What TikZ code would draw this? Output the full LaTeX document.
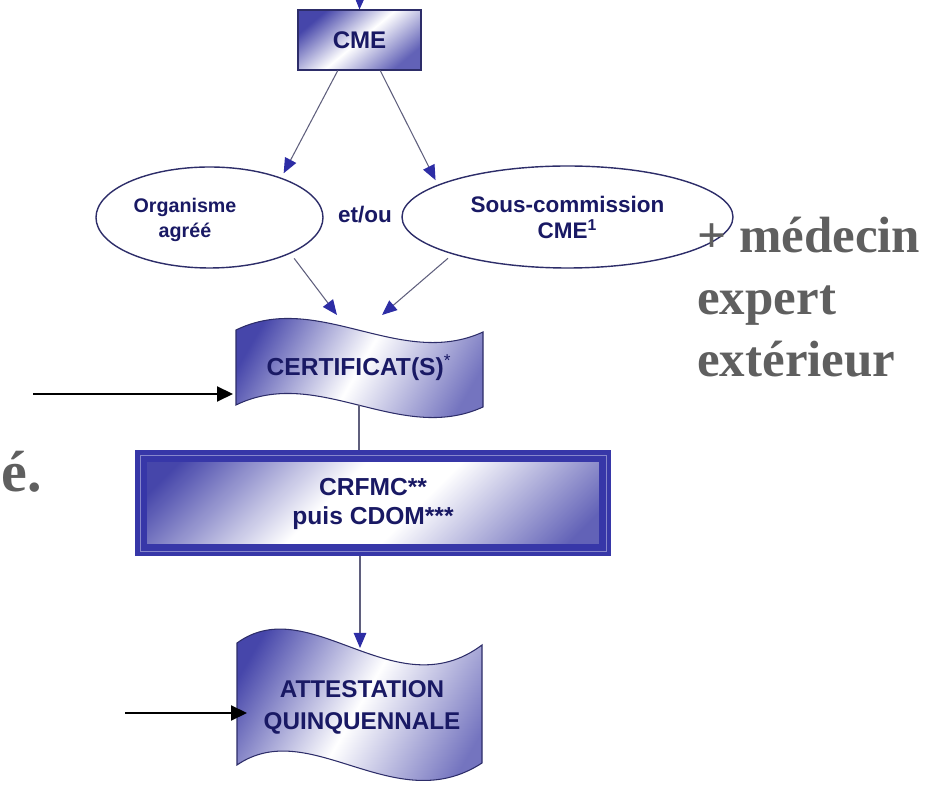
\documentclass[tikz,border=0pt]{standalone}
\usepackage{fontspec}
\setmainfont{Liberation Serif}
\setsansfont{Liberation Sans}
\usepackage{tikz}
\usetikzlibrary{shapes.geometric}
\usetikzlibrary{arrows.meta}
\usetikzlibrary{calc}
\usepackage{xcolor}

\definecolor{navy}{RGB}{25,25,100}
\definecolor{shadeblue}{RGB}{70,70,170}
\definecolor{arrowblue}{RGB}{45,45,165}
\definecolor{linegray}{RGB}{95,95,125}
\definecolor{edgeblue}{RGB}{45,45,105}
\definecolor{frameblue}{RGB}{55,55,168}
\definecolor{textgray}{RGB}{95,95,95}

% white band across the middle, blue in two corners
\pgfdeclareverticalshading{paper}{100bp}{color(0bp)=(shadeblue!85); color(20bp)=(shadeblue!85);
  color(44bp)=(white); color(56bp)=(white); color(80bp)=(shadeblue); color(100bp)=(shadeblue)}

\tikzset{
  txt/.style={align=center, text=navy, inner sep=0pt,
    font=\sffamily\bfseries\fontsize{12.8}{14.8}\selectfont},
  box/.style={txt, draw=edgeblue, line width=0.6pt,
    left color=shadeblue, right color=shadeblue!85, middle color=white, shading angle=40,
    minimum width=2.46cm, minimum height=1.2cm},
  oval/.style={txt, ellipse, draw=edgeblue, line width=0.8pt, fill=white},
  wave/.style={draw=edgeblue, line width=0.6pt,
    left color=shadeblue, right color=shadeblue!75, middle color=white, shading angle=60},
  frame/.style={txt, draw=frameblue, line width=0.24cm,
    shade, shading=paper, shading angle=45,
    minimum width=9.28cm, minimum height=1.88cm,
    font=\sffamily\bfseries\fontsize{14}{16.5}\selectfont},
  flow/.style={draw=linegray, line width=0.6pt,
    -{Triangle[length=0.3cm, width=0.25cm, color=arrowblue]}},
  link/.style={draw=linegray, line width=0.6pt},
  pointer/.style={black, line width=1.2pt, -{Triangle[length=0.32cm, width=0.3cm]}},
  remark/.style={text=textgray, inner sep=0pt}
}

\begin{document}
\begin{tikzpicture}
  \useasboundingbox (0,0) rectangle (18.7,15.7);

  % top of the chart
  \node[box, font=\sffamily\bfseries\fontsize{13.7}{16}\selectfont] (cme) at (7.19,14.9) {CME};
  \coordinate (entry) at (7.2,15.95);
  \draw[flow] (entry) -- (cme.north);

  \node[oval, minimum width=4.54cm, minimum height=2.02cm] (orga) at (4.19,11.35) {};
  \node[txt, font=\sffamily\bfseries\fontsize{11.2}{14.2}\selectfont] (orgatxt) at (3.7,11.3) {Organisme\\agréé};
  \node[oval, minimum width=6.62cm, minimum height=2.04cm] (sous) at (11.35,11.36) {Sous-commission\\CME\textsuperscript{1}};
  \node[txt] (etou) at (7.3,11.4) {et/ou};

  \draw[flow, shorten >=0.1cm] ($(cme.south west)!0.325!(cme.south east)$) -- (orga.29);
  \draw[flow, shorten >=0.1cm] ($(cme.south west)!0.667!(cme.south east)$) -- (sous.166);

  % certificat
  \draw[wave] (4.72,9.1) .. controls (6.36,9.9) and (8.0,8.3) .. (9.66,9.06)
    -- (9.66,7.56) .. controls (8.0,6.8) and (6.36,8.4) .. (4.72,7.6) -- cycle;
  \node[txt, font=\sffamily\bfseries\fontsize{14}{16}\selectfont] (cert) at (7.18,8.34) {CERTIFICAT(S)\textsuperscript{\mdseries*}};
  \coordinate (certL) at (6.74,9.4);
  \coordinate (certR) at (7.64,9.4);
  \coordinate (certB) at (7.18,7.6);

  \draw[flow, shorten <=0.12cm] (orga.-24) -- (certL);
  \draw[flow, shorten <=0.12cm] (sous.198) -- (certR);

  % commission
  \node[frame] (crfmc) at (7.46,5.63) {CRFMC**\\puis CDOM***};
  \draw[frameblue!60, line width=0.5pt] ($(crfmc.north west)+(0.1,-0.1)$) rectangle ($(crfmc.south east)+(-0.1,0.1)$);
  \draw[link] (certB) -- (certB |- crfmc.north);

  % attestation
  \draw[wave] (4.74,2.84) .. controls (6.2,3.9) and (7.9,1.5) .. (9.64,2.8)
    -- (9.64,0.44) .. controls (7.9,-0.7) and (6.2,1.4) .. (4.74,0.4) -- cycle;
  \node[txt, font=\sffamily\bfseries\fontsize{13.8}{18.2}\selectfont] (att) at (7.24,1.55) {ATTESTATION\\QUINQUENNALE};
  \coordinate (attT) at (7.2,2.74);
  \draw[flow] (crfmc.south -| attT) -- (attT);

  % pointers from the left
  \coordinate (p1) at (0.66,7.82);
  \coordinate (p1e) at (4.66,7.82);
  \draw[pointer] (p1) -- (p1e);
  \coordinate (p2) at (2.5,1.44);
  \coordinate (p2e) at (4.94,1.44);
  \draw[pointer] (p2) -- (p2e);

  % slide text
  \node[remark, anchor=base west, font=\rmfamily\bfseries\fontsize{33}{36}\selectfont] (dot) at (0.02,5.86) {é.};
  \node[remark, anchor=north west, align=left, font=\rmfamily\bfseries\fontsize{29}{35.3}\selectfont] (expert) at (13.94,11.36) {+ médecin\\expert\\extérieur};

\end{tikzpicture}
\end{document}
